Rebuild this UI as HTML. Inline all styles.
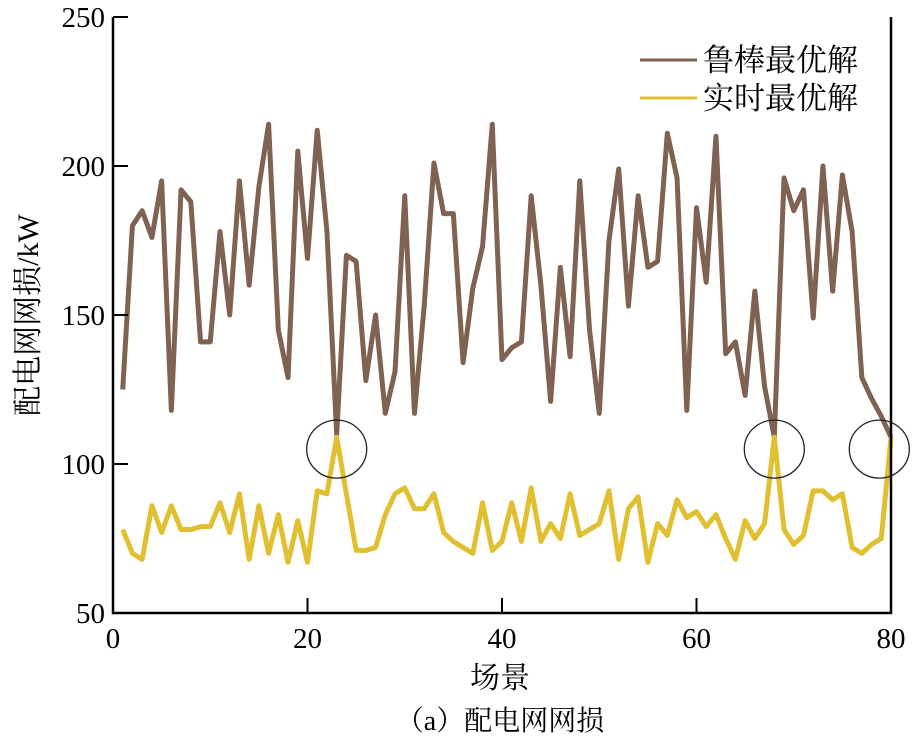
<!DOCTYPE html>
<html><head><meta charset="utf-8"><style>
body{margin:0;background:#fff}
svg text{font-family:"Liberation Serif","Noto Serif CJK SC",serif;fill:#000}
</style></head><body>
<svg width="912" height="738">
<g id="plot"></g>
</svg>
<script>
const xs=[];for(let i=1;i<=80;i++)xs.push(i);
const robust=[125,180,185,176,195,118,192,188,141,141,178,150,195,160,193,214,145,129,205,169,212,178,110,170,168,128,150,117,131,190,117,153,201,184,184,134,159,173,214,135,139,141,190,160,121,166,136,195,145,117,175,199,153,190,166,168,211,196,118,186,161,210,137,141,123,158,126,109,196,185,192,149,200,158,197,178,129,122,116,109];
const realtime=[78,70,68,86,77,86,78,78,79,79,87,77,90,68,86,70,83,67,81,67,91,90,109,90,71,71,72,83,90,92,85,85,90,77,74,72,70,87,71,74,87,74,92,74,80,75,90,76,78,80,91,68,85,89,67,80,76,88,82,84,79,83,75,68,81,75,80,109,78,73,76,91,91,88,90,72,70,73,75,109];
const xTicks=[0,20,40,60,80];
const yTicks=[50,100,150,200,250];
const circled=[23,68,78.8];
const circledVal=[105,105,105];
const NS="http://www.w3.org/2000/svg";
const X0=113,X1=891,Y0=613,Y1=17;
const sx=v=>X0+(v-0)/80*(X1-X0);
const sy=v=>Y0-(v-50)/200*(Y0-Y1);
const g=document.getElementById('plot');
function mk(t,a,txt){const e=document.createElementNS(NS,t);for(const k in a)e.setAttribute(k,a[k]);if(txt!=null)e.textContent=txt;g.appendChild(e);return e;}
function line(vals,color,name){
 const e=mk('polyline',{points:vals.map((v,i)=>sx(xs[i])+','+sy(v)).join(' '),fill:'none',stroke:color,'stroke-width':5,'stroke-linejoin':'round'});
 
 
}
line(robust,'#7f6252','robust-line');
line(realtime,'#e0c030','realtime-line');
circled.forEach((c,i)=>{
 const e=mk('ellipse',{cx:sx(c),cy:sy(circledVal[i]),rx:30,ry:29,fill:'none',stroke:'#222','stroke-width':1.3});
 
 
});
const ax=mk('path',{d:`M${X0},${Y1}V${Y0}H${X1}V${Y1}`,fill:'none',stroke:'#000','stroke-width':2.5});


xTicks.forEach(t=>{
 const tk=mk('line',{x1:sx(t),x2:sx(t),y1:Y0,y2:Y0-15,stroke:'#000','stroke-width':2});
 
 
 const l=mk('text',{x:sx(t),y:Y0+35,'text-anchor':'middle','font-size':29},t);
 
 
});
yTicks.forEach(t=>{
 const tk=mk('line',{x1:X0,x2:X0+15,y1:sy(t),y2:sy(t),stroke:'#000','stroke-width':2});
 
 
 const l=mk('text',{x:X0-8,y:sy(t)+10,'text-anchor':'end','font-size':29},t);
 
 
});
let e;
e=mk('text',{x:500,y:688,'text-anchor':'middle','font-size':30},'场景');

e=mk('text',{x:0,y:0,'text-anchor':'middle','font-size':30,transform:'translate(38,315) rotate(-90)'},'配电网网损/kW');

e=mk('text',{x:500,y:730,'text-anchor':'middle','font-size':28},'（a）配电网网损');

e=mk('line',{x1:640,x2:697,y1:60,y2:60,stroke:'#7f6252','stroke-width':3});

e=mk('text',{x:703,y:71,'font-size':31},'鲁棒最优解');

e=mk('line',{x1:640,x2:697,y1:98,y2:98,stroke:'#e0c030','stroke-width':3});

e=mk('text',{x:703,y:109,'font-size':31},'实时最优解');

</script>
</body></html>
